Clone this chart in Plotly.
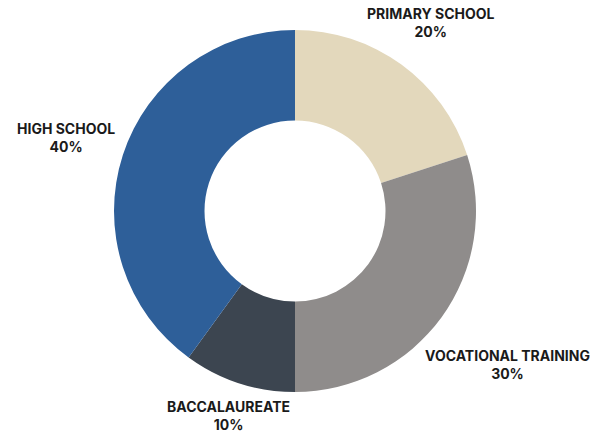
import plotly.graph_objects as go

# Education level shares
categories = ["PRIMARY SCHOOL", "VOCATIONAL TRAINING", "BACCALAUREATE", "HIGH SCHOOL"]
shares = [20, 30, 10, 40]
colors = ["#E3D8BC", "#8F8C8B", "#3C4550", "#2E5F99"]

# label anchor points in paper coordinates (x, y)
label_pos = [(431 / 605, 1 - 23 / 432),
             (507 / 605, 1 - 364 / 432),
             (228 / 605, 1 - 415 / 432),
             (66 / 605, 1 - 137 / 432)]

W, H = 605, 432
cx, cy, r = 295, 211, 181

fig = go.Figure(go.Pie(
    labels=categories,
    values=shares,
    marker=dict(colors=colors, line=dict(width=0)),
    hole=0.5,
    sort=False,
    direction="clockwise",
    rotation=0,
    textinfo="none",
    showlegend=False,
    domain=dict(x=[(cx - r) / W, (cx + r) / W], y=[(H - cy - r) / H, (H - cy + r) / H]),
))

total = sum(shares)
for cat, val, (x, y) in zip(categories, shares, label_pos):
    fig.add_annotation(
        x=x, y=y, xref="paper", yref="paper",
        xanchor="center", yanchor="middle",
        text=f"<b>{cat}</b><br><b>{round(val / total * 100)}%</b>",
        showarrow=False, align="center",
        font=dict(family="Inter", size=14, color="#1a1a1a"),
    )

fig.update_layout(
    width=W, height=H,
    margin=dict(l=0, r=0, t=0, b=0),
    paper_bgcolor="white", plot_bgcolor="white",
)

fig.write_html("out.html")
